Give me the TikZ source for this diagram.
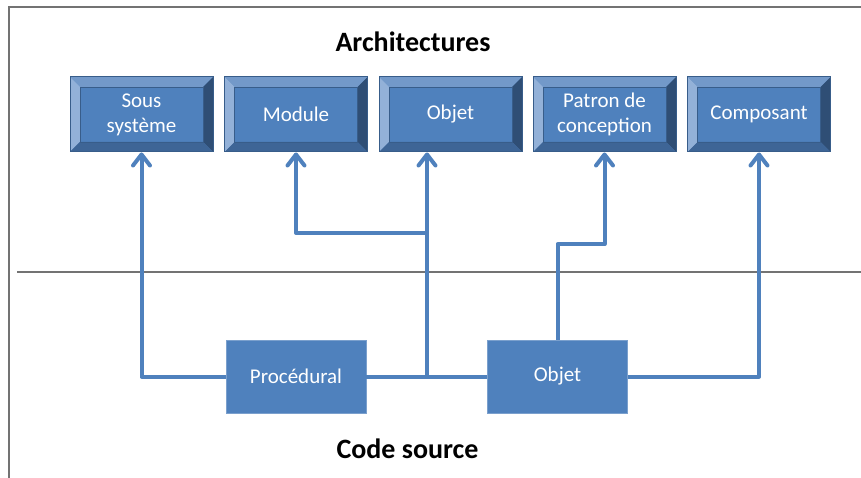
\documentclass[tikz,border=0pt]{standalone}
\usepackage{fontspec}
\setmainfont{Carlito}
\usetikzlibrary{arrows.meta,positioning,calc}

\definecolor{officeblue}{HTML}{4F81BD}
\definecolor{bevtop}{HTML}{7399C9}
\definecolor{bevleft}{HTML}{93B1D8}
\definecolor{bevright}{HTML}{2F4E75}
\definecolor{bevbottom}{HTML}{3E6596}
\definecolor{boxedge}{HTML}{385D8A}

\tikzset{
  archbox/.style={draw=boxedge, line width=1pt, fill=officeblue, text=white,
    minimum width=143pt, minimum height=75pt, inner sep=0pt, align=center,
    font=\fontsize{21}{25}\selectfont,
    path picture={
      \coordinate (nw) at (path picture bounding box.north west);
      \coordinate (ne) at (path picture bounding box.north east);
      \coordinate (sw) at (path picture bounding box.south west);
      \coordinate (se) at (path picture bounding box.south east);
      \fill[bevtop] (nw) -- (ne) -- ($(ne)+(-10pt,-10pt)$) -- ($(nw)+(10pt,-10pt)$) -- cycle;
      \fill[bevleft] (nw) -- (sw) -- ($(sw)+(10pt,10pt)$) -- ($(nw)+(10pt,-10pt)$) -- cycle;
      \fill[bevright] (ne) -- (se) -- ($(se)+(-10pt,10pt)$) -- ($(ne)+(-10pt,-10pt)$) -- cycle;
      \fill[bevbottom] (sw) -- (se) -- ($(se)+(-10pt,10pt)$) -- ($(sw)+(10pt,10pt)$) -- cycle;
      \draw[boxedge, line width=0.8pt] ($(nw)+(10pt,-10pt)$) rectangle ($(se)+(-10pt,10pt)$);
    }},
  codebox/.style={draw=officeblue!75!white, line width=0.8pt, fill=officeblue, text=white,
    minimum width=140pt, minimum height=73pt, inner sep=0pt,
    font=\fontsize{21}{25}\selectfont},
  title/.style={anchor=base, font=\fontsize{28}{32}\selectfont\bfseries},
  link/.style={officeblue, line width=4pt, line join=round},
  arr/.style={link, -{Straight Barb[length=11pt,width=17pt,round]}},
  frame/.style={gray!90!black, line width=1.5pt}
}

\begin{document}
\begin{tikzpicture}[x=1pt,y=-1pt]
  \useasboundingbox (0,0) rectangle (861,478);

  % frame and the line between the two levels
  \draw[frame] (9,478) -- (9,7) -- (861,7);
  \draw[frame] (17,272) -- (861,272);

  \node[title] (arch) at (413,52) {Architectures};
  \node[title] (code) at (407.5,458) {Code source};

  % top boxes
  \foreach \n/\x/\t in {sous/141.5/{Sous\\système}, mod/296/Module, objA/450.5/Objet,
                        pat/604.5/{Patron de\\conception}, comp/759/Composant} {
    \node[archbox] (\n) at (\x,114.5) {\t};
  }

  % bottom boxes
  \node[codebox] (proc) at (296,376.5) {Procédural};
  \node[codebox] (objB) at (557.5,376.5) {Objet};

  % junction points
  \coordinate (jn) at (427,233);
  \coordinate (pk) at (604.5,244);

  \draw[link] (proc.east) -- (objB.west);
  \draw[arr] (proc.west) -| (sous.south);
  \draw[arr] (jn |- proc.east) -- (jn |- objA.south);
  \draw[arr] (jn) -| (mod.south);
  \draw[arr] (objB.north) |- (pk) -- (pat.south);
  \draw[arr] (objB.east) -| (comp.south);
\end{tikzpicture}
\end{document}
